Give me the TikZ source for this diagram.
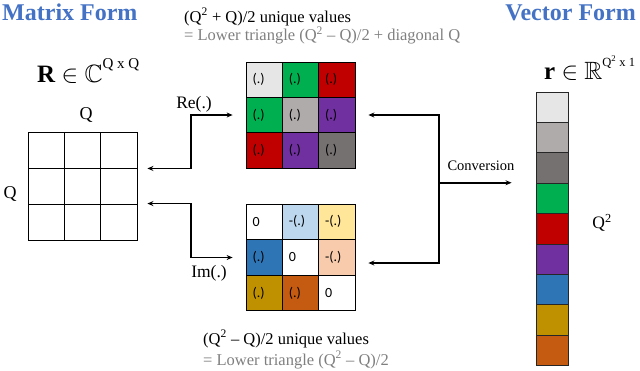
\documentclass[tikz,border=0pt]{standalone}
\usepackage{amssymb}
\usepackage{fontspec}
\setmainfont{Liberation Serif}
\newfontfamily\cellfont{Carlito}
\usetikzlibrary{arrows.meta}
\definecolor{ttl}{HTML}{4472C4}
\definecolor{cLg}{HTML}{E6E6E6}
\definecolor{cMg}{HTML}{AFABAB}
\definecolor{cDg}{HTML}{767171}
\definecolor{cGr}{HTML}{00B050}
\definecolor{cRd}{HTML}{C00000}
\definecolor{cPu}{HTML}{7030A0}
\definecolor{cBl}{HTML}{2E75B6}
\definecolor{cGo}{HTML}{BF9000}
\definecolor{cOr}{HTML}{C55A11}
\definecolor{cLb}{HTML}{BDD7EE}
\definecolor{cLy}{HTML}{FFE699}
\definecolor{cSa}{HTML}{F8CBAD}
\definecolor{txg}{HTML}{7F7F7F}
\begin{document}
\begin{tikzpicture}[x=1pt,y=-1pt,
  gcell/.style={draw=black, line width=0.9pt, minimum width=36.3pt, minimum height=36pt, inner sep=0pt},
  cell/.style={draw=black, line width=0.9pt, minimum width=36.3pt, minimum height=35.4pt,
     inner ysep=0pt, inner xsep=6.5pt, text width=23.3pt, align=left,
     font=\cellfont\fontsize{14}{14}\selectfont},
  vcell/.style={draw=black!85, line width=0.9pt, minimum width=32pt, minimum height=30.4pt, inner sep=0pt},
  conn/.style={line width=1.5pt, {Stealth[length=6pt,width=5pt]}-{Stealth[length=6pt,width=5pt]}},
  one/.style={line width=1.5pt, -{Stealth[length=6pt,width=5pt]}},
  note/.style={anchor=base west, inner sep=0pt, font=\fontsize{16.5}{16.5}\selectfont},
  ttlf/.style={inner sep=0pt, text=ttl, font=\bfseries\fontsize{24}{24}\selectfont},
  lbl/.style={inner sep=0pt, font=\fontsize{17.5}{17.5}\selectfont}]
\useasboundingbox (0,0) rectangle (640,370);

% titles
\node (tM) [ttlf, anchor=base west] at (2,20) {Matrix Form};
\node (tV) [ttlf, anchor=base east] at (636,20) {Vector Form};

% top / bottom notes
\node (n1) [note] at (184,22) {(Q\textsuperscript{2} + Q)/2 unique values};
\node (n2) [note, text=txg] at (184,40.5) {= Lower triangle (Q\textsuperscript{2} -- Q)/2 + diagonal Q};
\node (n3) [note] at (203,344) {(Q\textsuperscript{2} -- Q)/2 unique values};
\node (n4) [note, text=txg] at (203,365) {= Lower triangle (Q\textsuperscript{2} -- Q)/2};

% set labels
\node (Rset) [anchor=base west, inner sep=0pt, font=\fontsize{25}{25}\selectfont] at (37,82)
  {\textbf{R} $\in$ $\mathbb{C}$\raisebox{14pt}{\fontsize{15}{15}\selectfont Q x Q}};
\node (rset) [anchor=base west, inner sep=0pt, font=\fontsize{25}{25}\selectfont] at (544,79)
  {\textbf{r} $\in$ $\mathbb{R}$\raisebox{13pt}{\fontsize{12.5}{12.5}\selectfont Q\textsuperscript{2} x 1}};

% left grid
\foreach \r/\y in {1/150,2/186,3/222}
  \foreach \c/\x in {1/46.2,2/82.5,3/118.8}
    \node (L\r\c) [gcell] at (\x,\y) {};
\node (Qtop) [lbl, font=\fontsize{18}{18}\selectfont] at (86,115) {Q};
\node (Qleft) [lbl, font=\fontsize{18}{18}\selectfont] at (10,194) {Q};

% Re matrix
\node (re11) [cell, fill=cLg] at (264.2,79.7) {(.)};
\node (re12) [cell, fill=cGr] at (300.5,79.7) {(.)};
\node (re13) [cell, fill=cRd] at (336.8,79.7) {(.)};
\node (re21) [cell, fill=cGr] at (264.2,115) {(.)};
\node (re22) [cell, fill=cMg] at (300.5,115) {(.)};
\node (re23) [cell, fill=cPu] at (336.8,115) {(.)};
\node (re31) [cell, fill=cRd] at (264.2,150.3) {(.)};
\node (re32) [cell, fill=cPu] at (300.5,150.3) {(.)};
\node (re33) [cell, fill=cDg] at (336.8,150.3) {(.)};

% Im matrix
\node (im11) [cell, fill=white] at (264.2,221.8) {0};
\node (im12) [cell, fill=cLb] at (300.5,221.8) {-(.)};
\node (im13) [cell, fill=cLy] at (336.8,221.8) {-(.)};
\node (im21) [cell, fill=cBl] at (264.2,257.5) {(.)};
\node (im22) [cell, fill=white] at (300.5,257.5) {0};
\node (im23) [cell, fill=cSa] at (336.8,257.5) {-(.)};
\node (im31) [cell, fill=cGo] at (264.2,293.2) {(.)};
\node (im32) [cell, fill=cOr] at (300.5,293.2) {(.)};
\node (im33) [cell, fill=white] at (336.8,293.2) {0};

% vector
\foreach \col [count=\i from 0] in {cLg,cMg,cDg,cGr,cRd,cPu,cBl,cGo,cOr}
  \node (v\i) [vcell, fill=\col] at (552,107.2+30.4*\i) {};
\node (Qsq) [lbl] at (602,223) {Q\textsuperscript{2}};

% connectors
\coordinate (jl) at (191,0);
\coordinate (jr) at (439,0);
\coordinate (imr) at ([xshift=13pt,yshift=-5.5pt]im23.east);
\draw[conn] ([xshift=10pt]L13.south east) -- (jl |- L13.south east) -- (jl |- re21.west) -- ([xshift=-13pt]re21.west);
\draw[conn] ([xshift=10pt]L33.north east) -- (jl |- L33.north east) -- (jl |- im21.west) -- ([xshift=-13pt]im21.west);
\draw[conn] ([xshift=13pt]re23.east) -- (jr |- re23.east) -- (jr |- imr) -- (imr);
\draw[one] (jr |- v3.north west) -- ([xshift=-24pt]v3.north west);

\node (lRe) [lbl] at (194,104) {Re(.)};
\node (lIm) [lbl] at (209,273) {Im(.)};
\node (lCv) [lbl, font=\fontsize{14.5}{14.5}\selectfont] at (481,166) {Conversion};
\end{tikzpicture}
\end{document}
